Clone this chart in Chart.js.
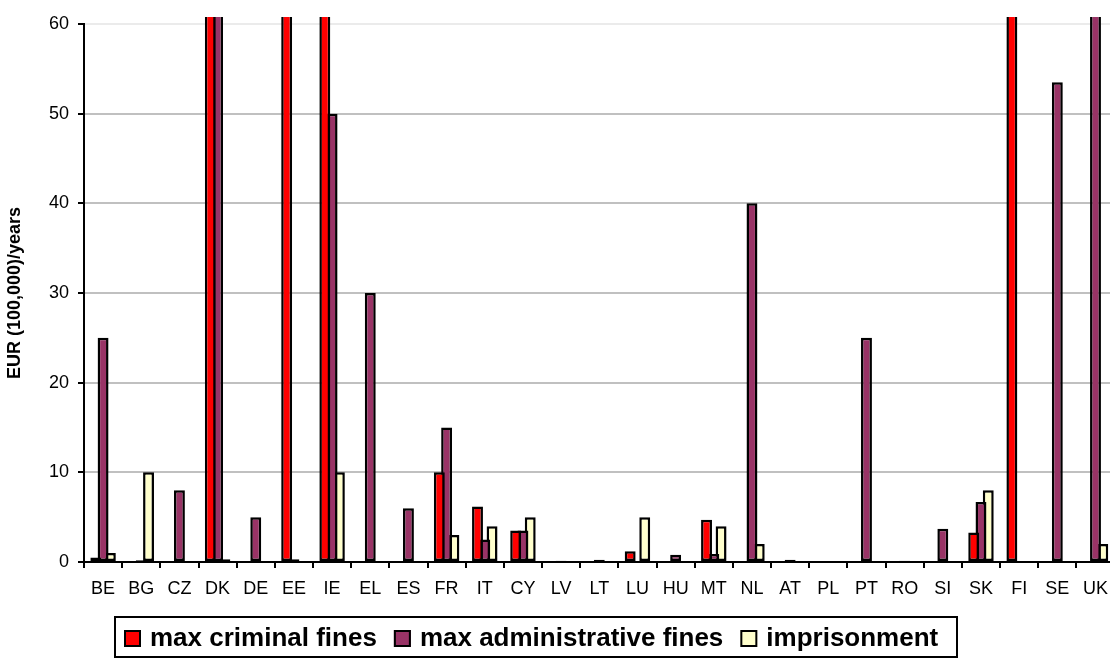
<!DOCTYPE html>
<html>
<head>
<meta charset="utf-8">
<script src="https://cdn.jsdelivr.net/npm/chart.js@4/dist/chart.umd.min.js"></script>
<style>
  html, body { margin: 0; padding: 0; background: #fff; overflow: hidden; width: 1110px; height: 659px; }
  canvas { display: block; }
</style>
</head>
<body>
<canvas id="chart" width="1118" height="659"></canvas>
<script>
var countries = ['BE','BG','CZ','DK','DE','EE','IE','EL','ES','FR','IT','CY','LV','LT','LU','HU','MT','NL','AT','PL','PT','RO','SI','SK','FI','SE','UK']

// bars that run off the top of the chart are set to 100 (real value not readable)
var criminalFines = [0.5, 0.05, 0, 100, 0, 100, 100, 0, 0, 10, 6.2, 3.5, 0, 0, 1.2, 0, 4.7, 0.1, 0, 0, 0, 0, 0, 3.3, 100, 0, 0.1]
var adminFines = [25, 0.2, 8, 100, 5, 0.3, 50, 30, 6, 15, 2.5, 3.5, 0.15, 0.25, 0.05, 0.8, 0.9, 40, 0.25, 0, 25, 0.15, 3.7, 6.7, 0, 53.5, 100]
var imprisonment = [1, 10, 0, 0.3, 0, 0, 10, 0, 0, 3, 4, 5, 0, 0, 5, 0, 4, 2, 0, 0, 0, 0, 0, 8, 0, 0, 2]

var seriesNames = ['max criminal fines', 'max administrative fines', 'imprisonment']
var seriesColors = ['#ff0000', '#993366', '#ffffcc']
var yTicks = [0, 10, 20, 30, 40, 50, 60]
var yTitle = 'EUR (100,000)/years'

var font = 'Arial, "Liberation Sans", sans-serif'

// legend with a frame, drawn under the plot
const boxLegend = {
    id: 'boxLegend',
    afterDraw(chart) {
        var ctx = chart.ctx
        ctx.save()
        ctx.lineWidth = 2
        ctx.strokeStyle = '#000'
        ctx.strokeRect(115, 617, 842, 40)
        ctx.font = 'bold 26px ' + font
        ctx.textBaseline = 'alphabetic'
        var x = 124
        chart.data.datasets.forEach(function (ds) {
            ctx.fillStyle = ds.backgroundColor
            ctx.fillRect(x, 630, 17, 17)
            ctx.strokeRect(x + 1, 631, 15, 15)
            ctx.fillStyle = '#000'
            ctx.fillText(ds.label, x + 26, 646)
            x += 26 + ctx.measureText(ds.label).width + 17
        })
        ctx.restore()
    }
}

function makeSet(i, values) {
    return {
        label: seriesNames[i],
        data: values,
        backgroundColor: seriesColors[i],
        borderColor: '#000',
        borderWidth: 2.5,
        borderSkipped: false,
        categoryPercentage: 0.572,
        barPercentage: 1.5,
        clip: {left: 2, top: 7, right: 2, bottom: 2}
    }
}

new Chart('chart', {
    type: 'bar',
    data: {
        labels: countries,
        datasets: [
            makeSet(0, criminalFines),
            makeSet(1, adminFines),
            makeSet(2, imprisonment)
        ]
    },
    options: {
        responsive: false,
        animation: false,
        layout: {padding: {top: 24, right: 0, bottom: 62, left: 0}},
        plugins: {
            legend: {display: false},
            tooltip: {enabled: false}
        },
        scales: {
            x: {
                afterFit: function (scale) { scale.height = 35 },
                border: {color: '#000', width: 2},
                grid: {
                    offset: true,
                    drawOnChartArea: false,
                    color: '#000',
                    lineWidth: 2,
                    tickLength: 6
                },
                ticks: {
                    color: '#000',
                    font: {family: font, size: 18},
                    padding: 10,
                    maxRotation: 0,
                    autoSkip: false
                }
            },
            y: {
                min: 0,
                max: 60,
                afterFit: function (scale) { scale.width = 84 },
                afterBuildTicks: function (scale) {
                    scale.ticks = yTicks.map(function (v) { return {value: v} })
                },
                border: {color: '#000', width: 2},
                grid: {
                    color: function (c) { return c.tick && c.tick.value === 60 ? '#ebebeb' : '#c0c0c0' },
                    lineWidth: 2,
                    tickColor: '#000',
                    tickLength: 6
                },
                ticks: {
                    color: '#000',
                    font: {family: font, size: 18},
                    padding: 9
                },
                title: {
                    display: true,
                    text: yTitle,
                    color: '#000',
                    font: {family: font, size: 18, weight: 'bold'},
                    padding: {top: 4, bottom: 0}
                }
            }
        }
    },
    plugins: [boxLegend]
});
</script>
</body>
</html>
